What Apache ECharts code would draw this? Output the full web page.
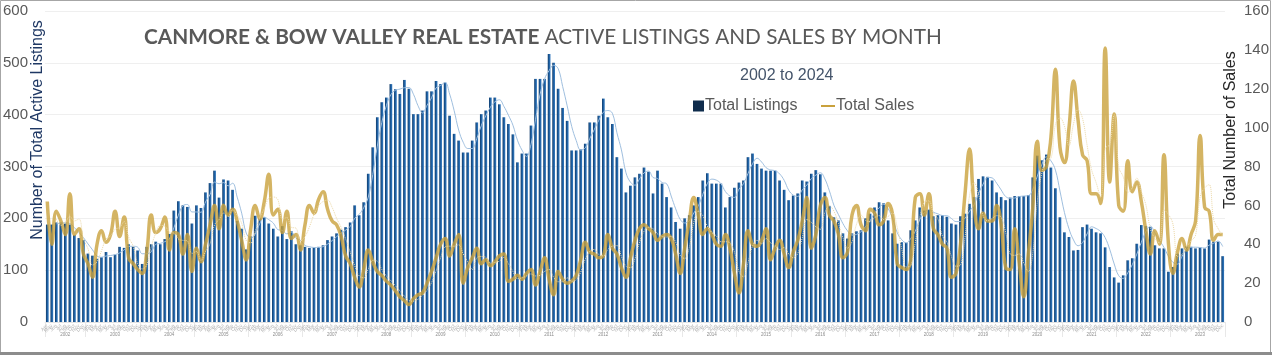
<!DOCTYPE html>
<html><head><meta charset="utf-8">
<script src="https://cdn.jsdelivr.net/npm/echarts@6/dist/echarts.min.js"></script>
<style>html,body{margin:0;padding:0;background:#fff}#c{width:1272px;height:356px}</style>
</head><body><div id="c"></div>
<script>
// ---- data ----
const startYear = 2002;
const startMonthIndex = 3; // April 2002
const monthNames = ['Jan','Feb','Mar','Apr','May','Jun','Jul','Aug','Sep','Oct','Nov','Dec'];

const listings = [
188,188,192,192,190,188,168,162,158,132,128,122,125,135,125,130,145,143,150,145,138,112,
145,150,155,150,160,170,215,233,225,222,190,225,220,250,268,292,240,275,273,255,195,180,140,165,205,200,202,190,180,165,185,160,175,150,148,145,143,143,
145,148,158,165,171,178,183,192,225,206,231,286,337,395,424,433,459,449,440,467,450,401,401,408,445,445,465,459,462,398,363,350,327,327,350,385,401,408,433,433,420,395,382,362,308,325,325,379,469,469,469,517,500,450,413,388,331,331,333,344,385,385,398,431,395,382,318,296,250,
263,279,286,298,290,248,292,267,241,221,193,180,200,206,225,241,273,287,267,267,267,221,241,259,269,273,318,325,305,296,292,292,292,273,255,235,244,248,273,271,286,293,285,250,224,202,196,171,161,171,175,177,200,209,221,231,229,196,171,151,154,153,177,196,221,215,216,204,206,206,203,
190,188,204,209,228,241,276,281,280,273,250,241,235,240,243,243,243,245,279,321,312,323,298,258,202,173,164,138,139,183,188,180,173,171,144,106,86,76,90,119,123,151,187,185,183,148,142,142,97,106,132,142,146,145,142,144,142,159,155,155,127
];

const sales = [
62,40,57,52,45,66,45,48,35,30,23,40,47,41,45,57,44,54,33,30,27,25,36,55,46,48,54,37,46,45,
35,45,26,38,31,40,50,60,48,60,55,58,52,42,32,48,60,53,62,76,55,58,46,57,43,45,37,50,60,56,63,67,
58,52,50,44,34,30,23,18,27,37,31,26,24,21,19,16,13,11,9,12,14,15,20,26,33,40,43,34,40,45,
20,28,33,38,30,32,29,31,34,35,21,22,24,22,25,27,19,26,33,22,14,26,22,20,21,24,32,41,36,35,33,34,45,38,35,28,23,
33,42,48,50,48,46,42,44,45,43,35,25,38,52,64,55,45,48,45,40,39,45,38,25,15,30,47,40,39,42,
48,32,38,42,35,28,36,42,52,64,38,45,60,64,55,52,45,33,36,55,60,50,47,58,56,50,52,61,55,30,
28,27,32,64,66,55,66,48,45,40,38,
23,25,40,66,89,60,48,56,52,52,60,50,28,27,48,30,13,35,59,93,78,80,95,130,90,82,100,124,104,86,
83,66,66,61,141,72,107,60,57,83,67,72,62,47,35,47,40,86,40,25,36,43,37,45,52,96,59,57,42,45,45
];

const leftTicks = [0, 100, 200, 300, 400, 500, 600];
const rightTicks = [0, 20, 40, 60, 80, 100, 120, 140, 160];

// ---- derived category labels ----
const monthLabels = [], yearLabels = [];
for (let i = 0; i < listings.length; i++) {
  const m = (startMonthIndex + i) % 12;
  const y = startYear + Math.floor((startMonthIndex + i) / 12);
  monthLabels.push(monthNames[m]);
  yearLabels.push(String(y));
}
// Excel-style 3-period moving-average trendlines
function movingAvg(arr, p) {
  return arr.map((v, i) => i < p - 1 ? '-' : +(arr.slice(i - p + 1, i + 1).reduce((a, b) => a + b, 0) / p).toFixed(1));
}
const listingsTrend = movingAvg(listings, 3);
const salesTrend = movingAvg(sales, 3);

function isYearMid(i) {
  const m = (startMonthIndex + i) % 12;
  if (i === 4) return true; // partial first year
  return m === 6 && i > 8;
}
function isYearStart(i) {
  return i === 0 || (startMonthIndex + i) % 12 === 0;
}

const chart = echarts.init(document.getElementById('c'), null, {renderer: 'canvas'});
const gridFont = '"Liberation Sans", Arial, sans-serif';
const titleFont = 'Lato, "Open Sans", sans-serif';
chart.setOption({
  animation: false,
  backgroundColor: '#ffffff',
  title: {
    text: '{b|CANMORE & BOW VALLEY REAL ESTATE} {n|ACTIVE LISTINGS AND SALES BY MONTH}',
    left: 144, top: 27, padding: 0,
    textStyle: {
      rich: {
        b: {fontFamily: titleFont, fontWeight: 'bold', fontSize: 20.8, color: '#595959'},
        n: {fontFamily: titleFont, fontWeight: 'normal', fontSize: 20.8, color: '#595959'}
      }
    }
  },
  legend: [
    {
      data: [{name: 'Total Listings', itemStyle: {color: '#0f2c4c'}}],
      left: 693, top: 98, padding: 0, itemWidth: 11, itemHeight: 11, icon: 'rect',
      textStyle: {fontFamily: gridFont, fontSize: 16, color: '#595959', padding: [0, 0, 0, -4]}
    },
    {
      data: [{name: 'Total Sales', itemStyle: {color: '#c9a13c'}}],
      left: 821, top: 98, padding: 0, itemWidth: 14, itemHeight: 2, icon: 'rect',
      textStyle: {fontFamily: gridFont, fontSize: 16, color: '#595959', padding: [0, 0, 0, -4]}
    }
  ],
  grid: {left: 42, right: 46, top: 11, bottom: 34, containLabel: false},
  xAxis: [
    {
      type: 'category', data: monthLabels, boundaryGap: true,
      axisLine: {show: true, lineStyle: {color: '#e3e3e3'}},
      axisTick: {show: false},
      axisLabel: {interval: 0, rotate: 45, fontSize: 5, color: '#b3b3b3', margin: 3, fontFamily: gridFont}
    },
    {
      type: 'category', data: yearLabels, boundaryGap: true, position: 'bottom', offset: 0,
      axisLine: {show: false},
      axisTick: {show: true, interval: (i) => isYearStart(i), length: 15, lineStyle: {color: '#e8e8e8'}},
      axisLabel: {interval: (i) => isYearMid(i), fontSize: 4.5, color: '#8c8c8c', margin: 10, fontFamily: gridFont}
    }
  ],
  yAxis: [
    {
      type: 'value', min: 0, max: 600, interval: 100, position: 'left',
      axisLine: {show: false}, axisTick: {show: false},
      axisLabel: {fontFamily: gridFont, fontSize: 15, color: '#595959', margin: 17,
        formatter: (v) => leftTicks.includes(v) ? String(v) : ''},
      splitLine: {show: true, lineStyle: {color: '#efefef', width: 1}}
    },
    {
      type: 'value', min: 0, max: 160, interval: 20, position: 'right',
      axisLine: {show: false}, axisTick: {show: false},
      axisLabel: {fontFamily: gridFont, fontSize: 15, color: '#595959', margin: 19,
        formatter: (v) => rightTicks.includes(v) ? String(v) : ''},
      splitLine: {show: false}
    }
  ],
  series: [
    {
      name: 'Total Listings', type: 'bar', xAxisIndex: 0, yAxisIndex: 0, data: listings,
      barWidth: '60%',
      itemStyle: {color: new echarts.graphic.LinearGradient(0, 0, 1, 0, [
        {offset: 0, color: '#103a68'}, {offset: 0.5, color: '#1e60a2'}, {offset: 1, color: '#3278bd'}
      ])},
      z: 2
    },
    {
      name: 'Listings trend', type: 'line', xAxisIndex: 0, yAxisIndex: 0, data: listingsTrend,
      smooth: 0.4, symbol: 'none', lineStyle: {color: '#9fbfdf', width: 1}, z: 3, silent: true
    },
    {
      name: 'Total Sales', type: 'line', xAxisIndex: 0, yAxisIndex: 1, data: sales,
      smooth: 0.45, symbol: 'none', lineStyle: {color: '#c9a13c', width: 3.5, opacity: 0.8}, z: 4
    },
    {
      name: 'Sales trend', type: 'line', xAxisIndex: 0, yAxisIndex: 1, data: salesTrend,
      smooth: 0.4, symbol: 'none', lineStyle: {color: '#ecd9a8', width: 1, type: 'dotted'}, z: 5, silent: true
    }
  ],
  graphic: [
    {type: 'text', left: 740, top: 68, style: {text: '2002 to 2024', fontFamily: gridFont, fontSize: 16, fill: '#44546a'}},
    {type: 'text', x: 38, y: 130, rotation: Math.PI / 2,
      style: {text: 'Number of Total Active Listings', fontFamily: gridFont, fontSize: 16, fill: '#1f3864', textAlign: 'center', textVerticalAlign: 'middle'}},
    {type: 'text', x: 1231, y: 130, rotation: Math.PI / 2,
      style: {text: 'Total Number of Sales', fontFamily: gridFont, fontSize: 16, fill: '#262626', textAlign: 'center', textVerticalAlign: 'middle'}},
    {type: 'rect', shape: {x: 0.5, y: 0.5, width: 1270, height: 352}, style: {fill: 'none', stroke: '#a6a6a6', lineWidth: 1}, silent: true},
    {type: 'rect', shape: {x: 0, y: 352, width: 1272, height: 3}, style: {fill: '#8c8c8c'}, silent: true}
  ]
});
</script></body></html>
